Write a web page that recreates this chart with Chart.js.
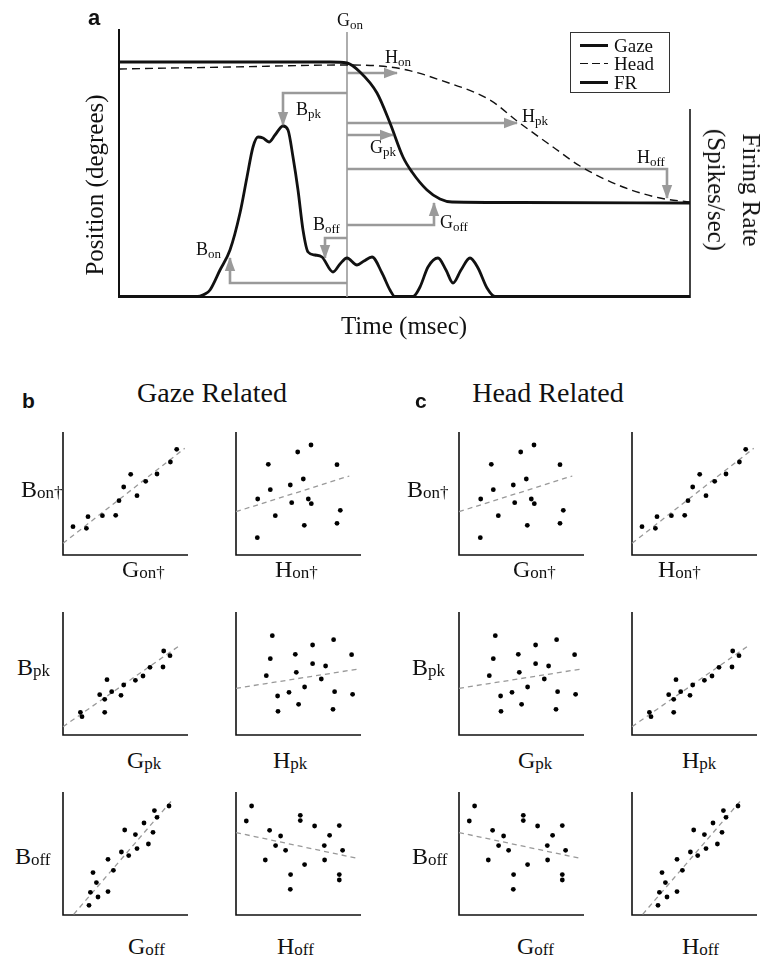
<!DOCTYPE html>
<html><head><meta charset="utf-8">
<script src="https://cdn.jsdelivr.net/npm/chart.js@4.4.1/dist/chart.umd.min.js"></script>
<style>
body{margin:0;background:#fff;}
#wrap{position:relative;width:765px;height:959px;overflow:hidden;font-family:"Liberation Serif","Times New Roman",serif;color:#111;}
.abs{position:absolute;white-space:nowrap;line-height:1;}
canvas{position:absolute;}
.bold{font-family:"Liberation Sans",Arial,sans-serif;font-weight:bold;}
</style></head><body><div id="wrap"></div>
<script>
// ---------- Panel a data (time units, position / rate units) ----------
const gazeT = [0, 211, 228, 241, 258, 271, 284, 293, 308, 321, 333, 401, 571];
const gazeY = [235, 235, 234, 225, 204, 174, 140, 125, 107, 98, 95, 94.5, 94];
const headT = [0, 111, 228, 261, 288, 321, 371, 398, 434, 461, 504, 541, 571];
const headY = [228, 230, 232, 231, 227, 217, 197, 176, 150, 131, 110, 99, 95];
const frT = [0, 76, 81, 86, 91, 101, 111, 121, 128, 134, 139, 144, 150, 156, 164, 169, 174, 179, 184, 189, 196, 203, 214, 221, 228, 238, 245, 253, 263, 271, 276, 294, 301, 309, 319, 327, 334, 342, 351, 359, 368, 376, 571];
const frY = [0.5, 0.5, 1, 3, 7, 27, 47, 84, 120, 150, 160, 159, 155, 162, 171, 167, 140, 107, 67, 45, 42, 40, 25, 33, 39, 32, 36, 40, 24, 7, 0.5, 0.5, 10, 30, 39, 27, 14, 27, 39, 29, 9, 0.5, 0.5];
// annotation arrows: [time, value] vertices
const gazeOnLine = [[228, 265], [228, 0]];
const arrowPaths = {
  Hon: [[228, 224], [278, 224]],
  Bpk: [[228, 204], [164, 204], [164, 172]],
  Hpk: [[228, 174], [398, 174]],
  Gpk: [[228, 162], [274, 162]],
  Hoff: [[228, 128], [548, 128], [548, 99]],
  Goff: [[228, 72], [315, 72], [315, 94]],
  Boff: [[228, 59], [206, 59], [206, 39]],
  Bon: [[228, 14], [111, 14], [111, 39]]
};
// annotation labels: [main, subscript, time, value]
const aLabels = [['G','on',218,271],['H','on',266,234],['B','pk',177,182],['H','pk',403,175],['G','pk',251,144],['H','off',518,134],['G','off',321,69],['B','off',194,67],['B','on',77,42]];
const aFrame = {tMax: 571, vMax: 277, leftTop: 267, rightTop: 187};

// ---------- Scatter data ----------
const corrOnX = [10, 23.4, 25, 39.4, 52.7, 56, 60.7, 67.7, 74, 82.7, 94, 107.4, 113.7];
const corrOnY = [28.3, 26.7, 38.3, 39.3, 39.7, 54.3, 68, 80.7, 59.3, 73.7, 81, 93, 105.7];
const corrOnFit = [[0, 11.7], [121.7, 106.7]];
const randOnX = [21.7, 21.3, 32.3, 34.3, 39.3, 54.3, 55.7, 61.7, 67.3, 68.3, 72.3, 75, 75.3, 101, 101, 104.3];
const randOnY = [56, 17.3, 90.7, 65.3, 39.3, 70, 52.3, 103, 76, 29.7, 56, 110, 51.3, 90.3, 31.7, 44.7];
const randOnFit = [[0, 43.3], [113.3, 79]];
const corrPkX = [17.4, 19, 36.7, 41.7, 41.7, 44, 48.7, 58, 60.7, 72.4, 80, 87, 100, 100.7, 107];
const corrPkY = [22.7, 18.3, 40.3, 35.7, 22.7, 55.3, 43.3, 39.7, 50, 54.7, 59, 67.7, 68, 84, 79.3];
const corrPkFit = [[0, 8.3], [115, 88.3]];
const randPkX = [36.3, 34.3, 30.3, 41.6, 42, 53, 59.3, 60.3, 62.6, 68.6, 76.6, 76.6, 85.3, 89.6, 97.6, 98.6, 97, 115.6, 116.6];
const randPkY = [99.3, 76.3, 59.3, 39, 23.7, 42.7, 80.7, 62.7, 30.7, 48, 90, 71.3, 56, 69, 95.3, 43.3, 25.7, 80.3, 40.7];
const randPkFit = [[0, 46.7], [122.6, 66]];
const corrOffX = [26, 27.4, 30, 33.4, 35, 45, 45, 50.4, 58.4, 61.7, 65.7, 72.4, 74, 81, 85.4, 90, 91.4, 94, 106];
const corrOffY = [9.7, 22.7, 42.4, 32.4, 18, 55.7, 23.4, 44.7, 63, 85, 59.4, 80.4, 66.4, 92, 71, 82.7, 104.4, 97.7, 109];
const corrOffFit = [[10.7, 0.7], [108.4, 114]];
const randOffX = [10.3, 15.6, 29.3, 33.6, 39.6, 44.6, 49.6, 54.6, 54.3, 64.3, 64.3, 68.6, 78.6, 88.3, 88.6, 93.6, 103.3, 103.3, 103.3, 106.6];
const randOffY = [94, 109, 55, 84.7, 69.4, 79, 64.7, 40.4, 25.7, 99.7, 94.4, 50.4, 89, 69.4, 55, 79.7, 89.4, 40.4, 35, 64.7];
const randOffFit = [[0, 82.4], [122.6, 56.4]];
const scatterMax = {x: 125, y: 123};

// ---------- helpers ----------
const wrap = document.getElementById('wrap');
const GRAY = '#9a9a9a';
function mkCanvas(l, t, w, h) {
  const c = document.createElement('canvas');
  c.width = w; c.height = h;
  c.style.left = l + 'px'; c.style.top = t + 'px';
  c.style.width = w + 'px'; c.style.height = h + 'px';
  wrap.appendChild(c);
  return c;
}
function txt(html, l, base, size, cls) {
  const d = document.createElement('div');
  d.className = 'abs' + (cls ? ' ' + cls : '');
  d.style.fontSize = size + 'px';
  d.style.left = l + 'px';
  d.style.top = (base - 0.84 * size) + 'px';
  d.innerHTML = html;
  wrap.appendChild(d);
  return d;
}
function subHtml(main, sub, subSize, shift) {
  return main + '<span style="font-size:' + subSize + 'px;position:relative;top:' + shift + 'px">' + sub + '</span>';
}
const pts = (xs, ys) => xs.map((x, i) => ({x: x, y: ys[i]}));
const pairs = arr => arr.map(p => ({x: p[0], y: p[1]}));

// ---------- Panel a chart ----------
const arrowHeads = {
  id: 'arrowHeads',
  afterDatasetsDraw(chart) {
    const ctx = chart.ctx;
    chart.data.datasets.forEach((ds, i) => {
      if (!ds.arrow) return;
      const p = chart.getDatasetMeta(i).data;
      const a = p[p.length - 2], b = p[p.length - 1];
      const ang = Math.atan2(b.y - a.y, b.x - a.x);
      const L = 13, W = 5.2;
      const c = Math.cos(ang), s = Math.sin(ang);
      ctx.save();
      ctx.fillStyle = ds.borderColor;
      ctx.beginPath();
      ctx.moveTo(b.x + 1 * c, b.y + 1 * s);
      ctx.lineTo(b.x - L * c + W * s, b.y - L * s - W * c);
      ctx.lineTo(b.x - L * c - W * s, b.y - L * s + W * c);
      ctx.closePath();
      ctx.fill();
      ctx.restore();
    });
  }
};
const frameA = {
  id: 'frameA',
  beforeDatasetsDraw(chart) {
    const ctx = chart.ctx, x = chart.scales.x, y = chart.scales.y;
    ctx.save();
    ctx.lineCap = 'square';
    ctx.strokeStyle = '#111'; ctx.lineWidth = 2;
    ctx.beginPath();
    ctx.moveTo(x.getPixelForValue(0), y.getPixelForValue(aFrame.leftTop));
    ctx.lineTo(x.getPixelForValue(0), y.getPixelForValue(0));
    ctx.lineTo(x.getPixelForValue(aFrame.tMax), y.getPixelForValue(0));
    ctx.stroke();
    ctx.strokeStyle = '#444'; ctx.lineWidth = 2;
    ctx.beginPath();
    ctx.moveTo(x.getPixelForValue(aFrame.tMax), y.getPixelForValue(0));
    ctx.lineTo(x.getPixelForValue(aFrame.tMax), y.getPixelForValue(aFrame.rightTop));
    ctx.stroke();
    ctx.restore();
  }
};
const aDatasets = [
  {data: pts(gazeT, gazeY), borderColor: '#111', borderWidth: 2.8},
  {data: pts(headT, headY), borderColor: '#111', borderWidth: 1.4, borderDash: [8, 5]},
  {data: pts(frT, frY), borderColor: '#111', borderWidth: 2.8},
  {data: pairs(gazeOnLine), borderColor: GRAY, borderWidth: 1.6, tension: 0}
];
Object.keys(arrowPaths).forEach(k => {
  aDatasets.push({data: pairs(arrowPaths[k]), borderColor: GRAY, borderWidth: 2.6, tension: 0, arrow: true});
});
aDatasets.forEach(d => { d.pointRadius = 0; d.fill = false; d.clip = false; if (d.tension === undefined) d.cubicInterpolationMode = 'monotone'; d.borderCapStyle = 'butt'; });

const cA = mkCanvas(0, 0, 765, 345);
const chartA = new Chart(cA, {
  type: 'line',
  data: {datasets: aDatasets},
  options: {
    responsive: false, animation: false, devicePixelRatio: 1,
    layout: {padding: {left: 119, right: 75, top: 20, bottom: 48}},
    plugins: {legend: {display: false}, tooltip: {enabled: false}},
    scales: {
      x: {type: 'linear', min: 0, max: aFrame.tMax, display: false},
      y: {type: 'linear', min: 0, max: aFrame.vMax, display: false}
    }
  },
  plugins: [frameA, arrowHeads]
});
aLabels.forEach(l => {
  const px = chartA.scales.x.getPixelForValue(l[2]);
  const py = chartA.scales.y.getPixelForValue(l[3]);
  txt(subHtml(l[0], l[1], 13, 3.5), px, py, 18);
});

// panel a texts
txt('a', 88, 25, 22, 'bold');
const pos = document.createElement('div');
pos.className = 'abs'; pos.style.fontSize = '25px';
pos.style.left = '94px'; pos.style.top = '185px';
pos.style.transform = 'translate(-50%,-50%) rotate(-90deg)';
pos.textContent = 'Position (degrees)';
wrap.appendChild(pos);
const fr = document.createElement('div');
fr.className = 'abs'; fr.style.fontSize = '25px'; fr.style.lineHeight = '35px'; fr.style.textAlign = 'center';
fr.style.left = '734px'; fr.style.top = '190px';
fr.style.transform = 'translate(-50%,-50%) rotate(90deg)';
fr.innerHTML = 'Firing Rate<br>(Spikes/sec)';
wrap.appendChild(fr);
const tm = txt('Time (msec)', 404, 334, 25);
tm.style.transform = 'translateX(-50%)';

// legend
const lg = document.createElement('div');
lg.style.cssText = 'position:absolute;left:570px;top:32px;width:98px;height:59px;border:1.5px solid #333;';
wrap.appendChild(lg);
[['Gaze', false, 3], ['Head', true, 1.5], ['FR', false, 3]].forEach((e, i) => {
  const yc = [45, 63.5, 82][i];
  const ln = document.createElement('div');
  const bg = e[1] ? 'repeating-linear-gradient(to right,#111 0 8px,transparent 8px 12px)' : '#111';
  ln.style.cssText = 'position:absolute;left:580px;width:28px;height:' + e[2] + 'px;background:' + bg + ';top:' + (yc - e[2] / 2) + 'px;';
  wrap.appendChild(ln);
  txt(e[0], 614, yc + 6.5, 19);
});

// ---------- Scatter panels ----------
const P = 6;
const scatterAxes = {
  id: 'scatterAxes',
  beforeDatasetsDraw(chart) {
    const ctx = chart.ctx, x = chart.scales.x, y = chart.scales.y;
    ctx.save();
    ctx.strokeStyle = '#111'; ctx.lineWidth = 1.6;
    ctx.beginPath();
    ctx.moveTo(x.getPixelForValue(0), y.getPixelForValue(scatterMax.y));
    ctx.lineTo(x.getPixelForValue(0), y.getPixelForValue(0));
    ctx.lineTo(x.getPixelForValue(scatterMax.x), y.getPixelForValue(0));
    ctx.stroke();
    ctx.restore();
  }
};
function scatter(left, top, xs, ys, fit) {
  const c = mkCanvas(left - P, top - P, scatterMax.x + 2 * P, scatterMax.y + 2 * P);
  new Chart(c, {
    type: 'scatter',
    data: {datasets: [
      {data: pts(xs, ys), pointRadius: 2.4, pointBackgroundColor: '#000', pointBorderWidth: 0, clip: false},
      {type: 'line', data: pairs(fit), borderColor: '#999', borderWidth: 1.3, borderDash: [5, 4], pointRadius: 0, tension: 0, clip: false, fill: false}
    ]},
    options: {
      responsive: false, animation: false, devicePixelRatio: 1,
      layout: {padding: P},
      plugins: {legend: {display: false}, tooltip: {enabled: false}},
      scales: {
        x: {type: 'linear', min: 0, max: scatterMax.x, display: false},
        y: {type: 'linear', min: 0, max: scatterMax.y, display: false}
      }
    },
    plugins: [scatterAxes]
  });
}
const lefts = [63, 235.5, 459, 632];
const tops = [432, 612, 792];
const rowsData = [
  [corrOnX, corrOnY, corrOnFit, randOnX, randOnY, randOnFit],
  [corrPkX, corrPkY, corrPkFit, randPkX, randPkY, randPkFit],
  [corrOffX, corrOffY, corrOffFit, randOffX, randOffY, randOffFit]
];
rowsData.forEach((r, i) => {
  scatter(lefts[0], tops[i], r[0], r[1], r[2]);
  scatter(lefts[1], tops[i], r[3], r[4], r[5]);
  scatter(lefts[2], tops[i], r[3], r[4], r[5]);
  scatter(lefts[3], tops[i], r[0], r[1], r[2]);
});

// scatter texts
txt('b', 22, 408, 21, 'bold');
txt('c', 415, 408, 21, 'bold');
const t1 = txt('Gaze Related', 212, 403, 28); t1.style.transform = 'translateX(-50%)';
const t2 = txt('Head Related', 548, 403, 28); t2.style.transform = 'translateX(-50%)';
const S = (m, s) => subHtml(m, s, 17, 1.5);
// row labels
txt(S('B', 'on†'), 21, 497, 24); txt(S('B', 'on†'), 407, 497, 24);
txt(S('B', 'pk'), 17, 675, 24); txt(S('B', 'pk'), 412, 675, 24);
txt(S('B', 'off'), 15, 864, 24); txt(S('B', 'off'), 412, 864, 24);
// x labels
txt(S('G', 'on†'), 122, 577, 24); txt(S('H', 'on†'), 275, 577, 24);
txt(S('G', 'on†'), 513, 577, 24); txt(S('H', 'on†'), 658, 577, 24);
txt(S('G', 'pk'), 127, 768, 24); txt(S('H', 'pk'), 273, 768, 24);
txt(S('G', 'pk'), 518, 768, 24); txt(S('H', 'pk'), 682, 768, 24);
txt(S('G', 'off'), 128, 954, 24); txt(S('H', 'off'), 277, 954, 24);
txt(S('G', 'off'), 517, 954, 24); txt(S('H', 'off'), 682, 954, 24);
</script>
</body></html>
